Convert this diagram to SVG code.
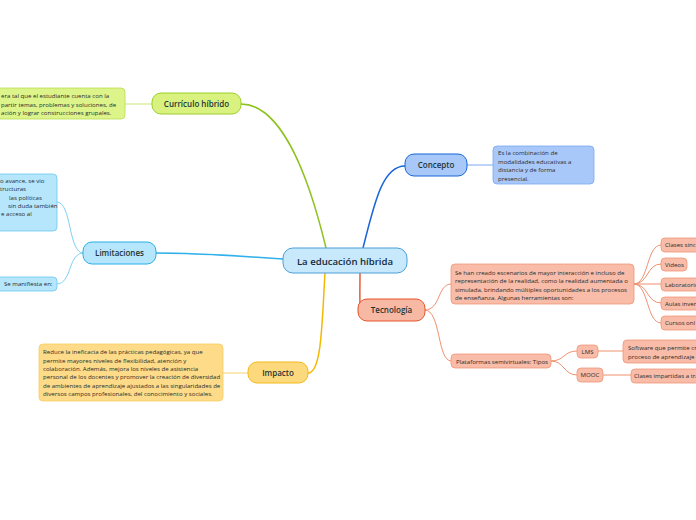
<svg xmlns="http://www.w3.org/2000/svg" width="696" height="520" viewBox="0 0 696 520">
<style>
text{font-family:"Open Sans","Noto Sans","Liberation Sans",sans-serif;fill:#1d3535}
.lbl{font-size:8px;font-weight:600;text-anchor:middle}
.cen{font-size:9.6px;font-weight:600;text-anchor:middle;fill:#14283a}
.sm{font-size:6.1px;fill:#2b2b2b}
.c{fill:none;stroke-linecap:round}
.main{stroke-width:1.5}
.sub{stroke-width:1}
</style>
<rect width="696" height="520" fill="#ffffff"/>
<g id="connectors">
  <path class="c main" stroke="#8dc21f" d="M241,104 C285,104 312,190 326,248"/>
  <path class="c main" stroke="#1a66d9" d="M363,248 C374,205 382,166 405,166"/>
  <path class="c main" stroke="#2fb0ea" d="M156,253 C200,253 240,256 283,259"/>
  <path class="c main" stroke="#f5b800" d="M325,273 C322,320 322,373 308,373"/>
  <path class="c main" stroke="#e85c35" d="M360,273 C360,295 359,310 362,310"/>
  <path class="c sub" stroke="#c9e870" d="M125,104 L152,104"/>
  <path class="c sub" stroke="#7ecff2" d="M83,253 C68,253 72,202 57,202"/>
  <path class="c sub" stroke="#7ecff2" d="M83,253 C68,253 72,284 57,284"/>
  <path class="c sub" stroke="#7aa8f0" d="M467,165 L493,165"/>
  <path class="c sub" stroke="#f7d36a" d="M223,373 L248,373"/>
  <path class="c sub" stroke="#f0906f" d="M425,310 C441,310 437,284 451,284"/>
  <path class="c sub" stroke="#f0906f" d="M425,310 C441,310 437,361 451,361"/>
  <path class="c sub" stroke="#f0906f" d="M634,284 C649,284 646,245 661,245"/>
  <path class="c sub" stroke="#f0906f" d="M634,284 C649,284 646,264 661,264"/>
  <path class="c sub" stroke="#f0906f" d="M634,284 L661,284"/>
  <path class="c sub" stroke="#f0906f" d="M634,284 C649,284 646,303 661,303"/>
  <path class="c sub" stroke="#f0906f" d="M634,284 C649,284 646,323 661,323"/>
  <path class="c sub" stroke="#f0906f" d="M551,361 C565,361 563,351 577,351"/>
  <path class="c sub" stroke="#f0906f" d="M551,361 C565,361 563,375 577,375"/>
  <path class="c sub" stroke="#f0906f" d="M598,351 L623,351"/>
  <path class="c sub" stroke="#f0906f" d="M603,375 L631,375"/>
</g>

<g id="central">
  <rect x="283" y="248" width="124" height="25" rx="10" fill="#c7e9fb" stroke="#4aa0da" stroke-width="1"/>
  <text class="cen" x="345" y="264.5">La educación híbrida</text>
</g>

<g id="curriculo">
  <rect x="152" y="93" width="89" height="21" rx="9" fill="#d9f27f" stroke="#9ccd2b" stroke-width="1"/>
  <text class="lbl" x="196.5" y="106.8">Currículo híbrido</text>
</g>
<g id="curriculo-texto">
  <rect x="-10" y="88" width="135" height="31" rx="4" fill="#dcf48a" stroke="#b8e050" stroke-width="0.8"/>
  <text class="sm" x="1" y="98">era tal que el estudiante cuenta con la</text>
  <text class="sm" x="1" y="106.5">partir temas, problemas y soluciones, de</text>
  <text class="sm" x="1" y="115">ación y lograr construcciones grupales.</text>
</g>

<g id="limitaciones">
  <rect x="83" y="242" width="73" height="22" rx="9" fill="#b5e6fb" stroke="#2aaee6" stroke-width="1"/>
  <text class="lbl" x="119.5" y="256">Limitaciones</text>
</g>
<g id="limitaciones-texto">
  <rect x="-10" y="174" width="67" height="57" rx="4" fill="#b5e6fb" stroke="#6cc8f0" stroke-width="0.8"/>
  <text class="sm" x="0" y="183">o avance, se vio</text>
  <text class="sm" x="0" y="191">tructuras</text>
  <text class="sm" x="9" y="199.5">las políticas</text>
  <text class="sm" x="8" y="207.5">sin duda también</text>
  <text class="sm" x="1" y="215.5">e acceso al</text>
</g>
<g id="limitaciones-manifiesta">
  <rect x="-10" y="277" width="67" height="14" rx="4" fill="#b5e6fb" stroke="#6cc8f0" stroke-width="0.8"/>
  <text class="sm" x="4" y="286">Se manifiesta en:</text>
</g>

<g id="concepto">
  <rect x="405" y="154" width="62" height="22" rx="9" fill="#a8c8fa" stroke="#1565d8" stroke-width="1"/>
  <text class="lbl" x="436" y="168">Concepto</text>
</g>
<g id="concepto-texto">
  <rect x="493" y="146" width="101" height="38" rx="4" fill="#a8c8fa" stroke="#7aa8f0" stroke-width="0.8"/>
  <text class="sm" x="498" y="155">Es la combinación de</text>
  <text class="sm" x="498" y="163.5">modalidades educativas a</text>
  <text class="sm" x="498" y="172">distancia y de forma</text>
  <text class="sm" x="498" y="180.5">presencial.</text>
</g>

<g id="tecnologia">
  <rect x="358" y="299" width="67" height="22" rx="9" fill="#f8b9a4" stroke="#e5532b" stroke-width="1"/>
  <text class="lbl" x="391.5" y="313">Tecnología</text>
</g>
<g id="tecnologia-texto">
  <rect x="451" y="264" width="183" height="40" rx="4" fill="#f8bca8" stroke="#f0957a" stroke-width="0.8"/>
  <text class="sm" x="455" y="274.5">Se han creado escenarios de mayor interacción e incluso de</text>
  <text class="sm" x="455" y="283">representación de la realidad, como la realidad aumentada o</text>
  <text class="sm" x="455" y="291.5">simulada, brindando múltiples oportunidades a los procesos</text>
  <text class="sm" x="455" y="300">de enseñanza. Algunas herramientas son:</text>
</g>
<g id="clases-sinc">
  <rect x="661" y="238" width="60" height="14" rx="4" fill="#f8bca8" stroke="#f0957a" stroke-width="0.8"/>
  <text class="sm" x="665" y="247">Clases sinc</text>
</g>
<g id="videos">
  <rect x="661" y="258" width="26" height="13" rx="4" fill="#f8bca8" stroke="#f0957a" stroke-width="0.8"/>
  <text class="sm" x="665" y="266.5">Videos</text>
</g>
<g id="laboratorio">
  <rect x="661" y="278" width="60" height="13" rx="4" fill="#f8bca8" stroke="#f0957a" stroke-width="0.8"/>
  <text class="sm" x="665" y="286.5">Laboratorio</text>
</g>
<g id="aulas">
  <rect x="661" y="297" width="60" height="13" rx="4" fill="#f8bca8" stroke="#f0957a" stroke-width="0.8"/>
  <text class="sm" x="665" y="305.5">Aulas inver</text>
</g>
<g id="cursos">
  <rect x="661" y="316" width="60" height="14" rx="4" fill="#f8bca8" stroke="#f0957a" stroke-width="0.8"/>
  <text class="sm" x="665" y="325">Cursos onl</text>
</g>
<g id="plataformas">
  <rect x="451" y="354" width="100" height="14" rx="4" fill="#f8bca8" stroke="#f0957a" stroke-width="0.8"/>
  <text class="sm" x="456" y="363.5">Plataformas semivirtuales: Tipos</text>
</g>
<g id="lms">
  <rect x="577" y="345" width="21" height="13" rx="4" fill="#f8bca8" stroke="#f0957a" stroke-width="0.8"/>
  <text class="sm" x="587.5" y="353.5" text-anchor="middle">LMS</text>
</g>
<g id="mooc">
  <rect x="577" y="368" width="26" height="14" rx="4" fill="#f8bca8" stroke="#f0957a" stroke-width="0.8"/>
  <text class="sm" x="590" y="377" text-anchor="middle">MOOC</text>
</g>
<g id="software">
  <rect x="623" y="340" width="90" height="23" rx="4" fill="#f8bca8" stroke="#f0957a" stroke-width="0.8"/>
  <text class="sm" x="628" y="350">Software que permite cre</text>
  <text class="sm" x="628" y="359">proceso de aprendizaje e</text>
</g>
<g id="clases-impartidas">
  <rect x="631" y="369" width="90" height="14" rx="4" fill="#f8bca8" stroke="#f0957a" stroke-width="0.8"/>
  <text class="sm" x="634" y="378">Clases impartidas a tra</text>
</g>

<g id="impacto">
  <rect x="248" y="362" width="60" height="21" rx="9" fill="#fdd97e" stroke="#f2b91c" stroke-width="1"/>
  <text class="lbl" x="278" y="375.7">Impacto</text>
</g>
<g id="impacto-texto">
  <rect x="39" y="344" width="184" height="57" rx="4" fill="#fddb88" stroke="#f7cd62" stroke-width="0.8"/>
  <text class="sm" x="43" y="354">Reduce la ineficacia de las prácticas pedagógicas, ya que</text>
  <text class="sm" x="43" y="362.5">permite mayores niveles de flexibilidad, atención y</text>
  <text class="sm" x="43" y="371">colaboración. Además, mejora los niveles de asistencia</text>
  <text class="sm" x="43" y="379">personal de los docentes y promover la creación de diversidad</text>
  <text class="sm" x="43" y="387.5">de ambientes de aprendizaje ajustados a las singularidades de</text>
  <text class="sm" x="43" y="396">diversos campos profesionales, del conocimiento y sociales.</text>
</g>
</svg>
